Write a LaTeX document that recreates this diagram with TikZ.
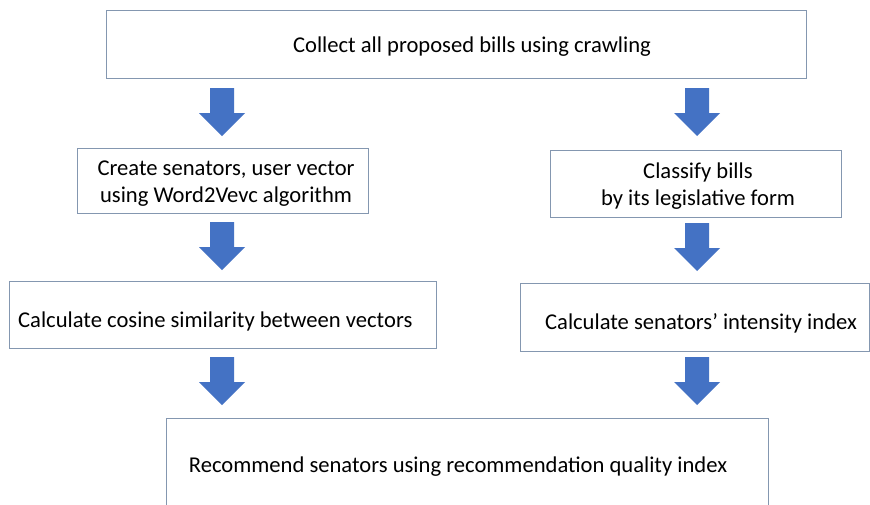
\documentclass[tikz,border=0pt]{standalone}
\usepackage{fontspec}
\setmainfont{Carlito}
\definecolor{arrowblue}{HTML}{4472C4}
\definecolor{boxline}{HTML}{8497B0}
\newcommand{\bkarrow}[3]{% name, x center, y top
  \fill[arrowblue] ({#2-12},#3) -- ({#2+12},#3) -- ({#2+12},{#3+25}) -- ({#2+23},{#3+25})
    -- (#2,{#3+48}) -- ({#2-23},{#3+25}) -- ({#2-12},{#3+25}) -- cycle;
  \coordinate (#1) at (#2,{#3+24});}
\begin{document}
\begin{tikzpicture}[x=1pt,y=-1pt,
  box/.style={draw=boxline,line width=0.8pt},
  lbl/.style={font=\fontsize{22.6}{27}\selectfont,text=black,align=center,inner sep=0pt}]
\useasboundingbox (0,0) rectangle (870,504);
\fill[white] (0,0) rectangle (870,504);
% boxes
\draw[box] (106,10) rectangle (806,78);
\draw[box] (77,148) rectangle (368,213);
\draw[box] (550,150) rectangle (841,217);
\draw[box] (9,281) rectangle (436,348);
\draw[box] (520,283) rectangle (869.5,351);
\draw[box] (166,520) -- (166,418) -- (768,418) -- (768,520);
% texts
\node[lbl] (t1) at (472,47) {Collect all proposed bills using crawling};
\node[lbl] (t2) at (226,184) {Create senators, user vector\\using Word2Vevc algorithm};
\node[lbl] (t3) at (698,186) {Classify bills\\by its legislative form};
\node[lbl,anchor=west] (t4) at (18,321) {Calculate cosine similarity between vectors};
\node[lbl] (t5) at (701,323.5) {Calculate senators’ intensity index};
\node[lbl] (t6) at (458,467) {Recommend senators using recommendation quality index};
% arrows
\bkarrow{a1}{222}{88}
\bkarrow{a2}{222}{222}
\bkarrow{a3}{222}{357}
\bkarrow{a4}{697}{88}
\bkarrow{a5}{697}{223}
\bkarrow{a6}{697}{357}
\end{tikzpicture}
\end{document}
